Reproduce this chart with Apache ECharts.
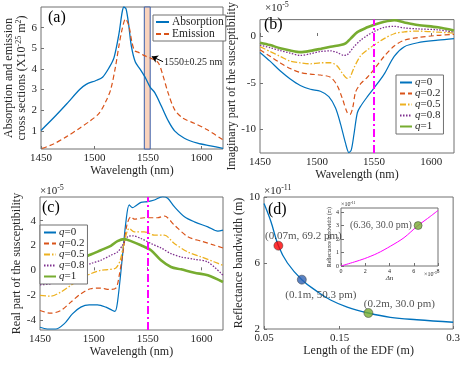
<!DOCTYPE html>
<html>
<head>
<meta charset="utf-8">
<script src="https://cdn.jsdelivr.net/npm/echarts@6/dist/echarts.min.js"></script>
<style>
html,body{margin:0;padding:0;background:#fff;}
#chartMain{width:463px;height:366px;}
</style>
</head>
<body>
<div id="chartMain"></div>
<script>
// ---- (a) cross sections, X10^-25 m^2 ----
var absWl  = [1450, 1461.6, 1473.9, 1486.1, 1492.2, 1501.4, 1507.5, 1513.6, 1518.2, 1522.8, 1525.8, 1527.4, 1529.5, 1532, 1534.4, 1538.1, 1542.7, 1547.2, 1551.8, 1556.4, 1562.5, 1568.7, 1574.8, 1583.9, 1596.2, 1608.4, 1620];
var absVal = [1.02, 1.62, 2.3, 3.0, 3.25, 3.44, 3.6, 4.06, 4.55, 5.7, 6.75, 7.0, 6.9, 6.1, 5.1, 4.33, 3.98, 3.6, 3.13, 2.84, 2.19, 1.5, 1.0, 0.64, 0.4, 0.27, 0.15];
var emWl   = [1451, 1461.6, 1473.9, 1486.1, 1495.3, 1504.4, 1510.6, 1515.1, 1519.7, 1522.8, 1525.8, 1528.9, 1532, 1535, 1537.5, 1541.1, 1547.2, 1553.4, 1559.5, 1564.1, 1568.7, 1574.8, 1582.4, 1593.1, 1605.4, 1620];
var emVal  = [0.15, 0.36, 0.72, 1.13, 1.46, 1.86, 2.43, 3.0, 4.14, 5.12, 5.93, 6.42, 6.1, 5.28, 4.88, 4.8, 4.63, 4.5, 4.3, 3.65, 2.84, 2.03, 1.62, 1.37, 1.05, 0.56];
var bandWl = [1546.5, 1552];

// ---- (b) imaginary part, x1e-5 ----
var imWl0 = [1450, 1458.8, 1467.6, 1476.5, 1485.3, 1494.1, 1502.9, 1510.3, 1516.2, 1520.6, 1525, 1527.9, 1530, 1532.4, 1535.3, 1538.2, 1544.1, 1550, 1558.8, 1567.6, 1576.5, 1588.2, 1605.9, 1620];
var imQ0  = [-1.76, -2.69, -3.72, -4.59, -5.28, -5.69, -5.9, -6.48, -7.69, -9.41, -11.48, -12.45, -12.17, -10.45, -8.2, -7.5, -6.48, -5.55, -4.07, -2.17, -1.14, -0.72, -0.45, -0.28];
var imWl2 = [1450, 1458.8, 1467.6, 1476.5, 1485.3, 1494.1, 1502.9, 1511.8, 1517.6, 1522.1, 1526.5, 1528.8, 1531.2, 1533.8, 1538.2, 1544.1, 1550, 1558.8, 1567.6, 1576.5, 1588.2, 1605.9, 1620];
var imQ2  = [-1.48, -2.17, -2.86, -3.48, -3.9, -4.07, -4.17, -4.41, -5.28, -6.66, -8.2, -8.38, -7.69, -5.97, -5.1, -4.41, -3.55, -2.17, -1.07, -0.45, -0.17, 0.07, 0.17];
var imWl5 = [1450, 1458.8, 1467.6, 1476.5, 1485.3, 1494.1, 1502.9, 1511.8, 1517.6, 1522.1, 1526.5, 1528.8, 1532.4, 1538.2, 1544.1, 1550, 1558.8, 1567.6, 1576.5, 1588.2, 1605.9, 1620];
var imQ5  = [-1.14, -1.66, -2.17, -2.69, -2.86, -2.97, -2.86, -2.86, -3.2, -3.97, -4.52, -4.41, -3.38, -2.1, -1.48, -0.97, -0.28, 0.24, 0.45, 0.52, 0.41, 0.31];
var imWl8 = [1450, 1458.8, 1467.6, 1476.5, 1485.3, 1494.1, 1502.9, 1511.8, 1517.6, 1523.5, 1526.5, 1532.4, 1538.2, 1544.1, 1550, 1558.8, 1567.6, 1576.5, 1588.2, 1605.9, 1620];
var imQ8  = [-0.97, -1.24, -1.55, -1.83, -2.07, -1.9, -1.66, -1.59, -1.76, -2.07, -2.0, -1.14, -0.45, 0.07, 0.48, 0.93, 1.03, 0.86, 0.76, 0.66, 0.41];
var imWl1 = [1450, 1458.8, 1467.6, 1476.5, 1485.3, 1494.1, 1502.9, 1511.8, 1520.6, 1525, 1529.4, 1535.3, 1544.1, 1550, 1558.8, 1567.6, 1576.5, 1588.2, 1605.9, 1620];
var imQ1  = [-0.72, -0.97, -1.31, -1.55, -1.72, -1.59, -1.38, -1.14, -0.97, -0.79, -0.28, 0.41, 0.93, 1.21, 1.52, 1.69, 1.45, 1.17, 0.93, 0.59];

// ---- (c) real part, x1e-5 ----
var reWl0 = [1450, 1456.8, 1464.6, 1472.4, 1480.1, 1487.9, 1495.7, 1503.4, 1511.2, 1517.4, 1519.6, 1522, 1526.7, 1529.8, 1532.9, 1536, 1539.1, 1543.8, 1550, 1556.2, 1564, 1568.6, 1574.8, 1584.2, 1593.5, 1605.9, 1615.2, 1620];
var reQ0  = [-4.58, -4.72, -4.72, -4.31, -3.5, -2.96, -2.78, -2.78, -2.96, -3.23, -3.3, -2.56, 1.21, 3.9, 5.26, 5.04, 5.2, 5.47, 5.53, 5.66, 5.93, 5.8, 5.12, 4.31, 3.9, 3.5, 3.15, 3.23];
var reWl2 = [1450, 1459.9, 1469.3, 1478.6, 1487.9, 1497.2, 1506.5, 1514.3, 1520.5, 1523.6, 1527.6, 1530.7, 1534.5, 1537.6, 1546.9, 1559.3, 1565.5, 1574.8, 1587.3, 1599.7, 1612.1, 1620];
var reQ2  = [-3.23, -3.45, -3.23, -2.56, -1.89, -1.48, -1.43, -1.54, -1.43, -0.4, 1.75, 3.64, 4.31, 4.12, 4.23, 4.23, 4.37, 3.64, 2.7, 2.35, 2.02, 1.8];
var reWl5 = [1450, 1459.9, 1469.3, 1478.6, 1487.9, 1497.2, 1506.5, 1512.7, 1520.5, 1524.5, 1528.3, 1532.9, 1537.6, 1546.9, 1556.2, 1565.5, 1574.8, 1587.3, 1599.7, 1612.1, 1620];
var reQ5  = [-2.02, -2.08, -1.75, -1.21, -0.67, -0.27, 0, 0.05, 0.19, 0.81, 2.29, 3.37, 3.1, 3.1, 2.83, 2.83, 2.16, 1.48, 1.08, 0.67, 0.4];
var reWl8 = [1450, 1459.9, 1469.3, 1478.6, 1487.9, 1497.2, 1506.5, 1515.8, 1522, 1526.7, 1531.4, 1536, 1543.8, 1553.1, 1562.4, 1571.7, 1581.1, 1593.5, 1605.9, 1620];
var reQ8  = [-1.16, -1.08, -0.75, -0.27, 0.19, 0.54, 0.81, 1.21, 1.48, 2.02, 2.7, 2.78, 2.56, 2.16, 1.8, 1.35, 1.08, 0.89, 0.67, -0.4];
var reWl1 = [1450, 1459.9, 1469.3, 1478.6, 1487.9, 1497.2, 1506.5, 1515.8, 1522, 1528.3, 1534.5, 1543.8, 1553.1, 1562.4, 1571.7, 1581.1, 1593.5, 1605.9, 1620];
var reQ1  = [-0.67, -0.46, -0.08, 0.4, 0.94, 1.27, 1.62, 1.97, 2.35, 2.51, 2.35, 2.02, 1.62, 0.81, 0.27, 0.08, -0.19, -0.4, -0.94];

// ---- (d) bandwidth vs EDF length, x1e-11 m ----
var edfLen = [0.05, 0.059, 0.069, 0.081, 0.1, 0.12, 0.138, 0.16, 0.188, 0.217, 0.252, 0.3];
var edfBw  = [9.6, 8.53, 7.05, 6.0, 4.99, 4.28, 3.76, 3.33, 2.97, 2.71, 2.56, 2.41];
var dotLen = [0.069, 0.1, 0.188];
var dotBw  = [7.05, 4.99, 2.97];
var dotText = ['(0.07m, 69.2 pm)', '(0.1m, 50.3 pm)', '(0.2m, 30.0 pm)'];
var dotColor = ['#FF0000', '#2F62B3', '#77AC30'];

// inset: bandwidth vs delta n (x1e-5)
var dnVal = [0, 1.1, 1.92, 3.0, 4.1, 5.2, 6.3, 7.4, 8.0];
var dnBw  = [0, 0.3, 0.54, 0.94, 1.48, 2.1, 2.96, 3.7, 4.12];
var dnDot = [6.36, 3.0];

// tick labels
var wlTicks = [1450, 1500, 1550, 1600];
var aTicks = [1, 2, 3, 4, 5, 6];
var bTicks = [-10, -5, 0];
var cTicks = [-4, -2, 0, 2, 4];
var dxTicks = [0.05, 0.15, 0.3];
var dyTicks = [2, 6, 10];
var inXTicks = [0, 2, 4, 6, 8];
var inYTicks = [0, 1, 2, 3, 4];

var qNames = ['q=0', 'q=0.2', 'q=0.5', 'q=0.8', 'q=1'];
var qColors = ['#0072BD', '#D95319', '#EDB120', '#7E2F8E', '#77AC30'];
var qTypes = ['solid', [5, 3], [6, 2, 1.5, 2], [1.5, 1.5], 'solid'];
var qWidths = [1.2, 1.2, 1.3, 1.3, 2.6];

var FONT = 'Liberation Serif';
var TXT = '#262626';
var BOX = '#707070';

function pairs(xs, ys) {
    var out = [];
    for (var i = 0; i < xs.length; i++) {
        out.push([xs[i], ys[i]]);
    }
    return out;
}

function mkGrid(l, t, w, h) {
    return {left: l, top: t, width: w, height: h, show: true, borderColor: BOX, borderWidth: 1, backgroundColor: '#fff'};
}

function mkAxis(gi, min, max, ticks, name, gap, fs) {
    fs = fs || 11;
    return {
        type: 'value', gridIndex: gi, min: min, max: max,
        axisLine: {show: false},
        axisTick: {show: true, inside: true, length: 3, customValues: ticks, lineStyle: {color: BOX}},
        axisLabel: {customValues: ticks, fontFamily: FONT, fontSize: fs, color: TXT, margin: 4,
            formatter: function (v) { return String(v); }},
        splitLine: {show: false},
        name: name, nameLocation: 'middle', nameGap: gap,
        nameTextStyle: {fontFamily: FONT, fontSize: 12, color: TXT,
            rich: {sup: {fontFamily: FONT, fontSize: 8, color: TXT, padding: [0, 0, 6, 0]}}}
    };
}

var magentaLine = {
    symbol: 'none', silent: true, label: {show: false},
    lineStyle: {color: '#FF00FF', type: [8, 3, 2, 3], width: 2},
    data: [{xAxis: 1550}]
};

var series = [];

// (a)
series.push({
    name: 'Absorption', type: 'line', xAxisIndex: 0, yAxisIndex: 0, smooth: 0.3, symbol: 'none',
    lineStyle: {color: '#0072BD', width: 1.3}, itemStyle: {color: '#0072BD'},
    data: pairs(absWl, absVal),
    markArea: {silent: true, itemStyle: {color: '#F9D3BD', borderColor: '#3B5EA8', borderWidth: 1},
        data: [[{xAxis: bandWl[0]}, {xAxis: bandWl[1]}]]},
    markLine: {silent: true, symbol: ['none', 'arrow'], symbolSize: 6, label: {show: false},
        lineStyle: {color: '#000', type: 'solid', width: 1},
        data: [[{coord: [1564, 4.35]}, {coord: [1553.5, 4.6]}]]}
});
series.push({
    name: 'Emission', type: 'line', xAxisIndex: 0, yAxisIndex: 0, smooth: 0.3, symbol: 'none',
    lineStyle: {color: '#D95319', width: 1.2, type: [5, 3]}, itemStyle: {color: '#D95319'},
    data: pairs(emWl, emVal)
});

// (b) and (c)
var imX = [imWl0, imWl2, imWl5, imWl8, imWl1];
var imY = [imQ0, imQ2, imQ5, imQ8, imQ1];
var reX = [reWl0, reWl2, reWl5, reWl8, reWl1];
var reY = [reQ0, reQ2, reQ5, reQ8, reQ1];
for (var k = 0; k < 5; k++) {
    var sb = {
        name: 'b' + k, type: 'line', xAxisIndex: 1, yAxisIndex: 1, smooth: 0.3, symbol: 'none',
        lineStyle: {color: qColors[k], width: qWidths[k], type: qTypes[k]}, itemStyle: {color: qColors[k]},
        data: pairs(imX[k], imY[k])
    };
    var sc = {
        name: 'c' + k, type: 'line', xAxisIndex: 2, yAxisIndex: 2, smooth: 0.3, symbol: 'none',
        lineStyle: {color: qColors[k], width: qWidths[k], type: qTypes[k]}, itemStyle: {color: qColors[k]},
        data: pairs(reX[k], reY[k])
    };
    if (k == 4) {
        sb.markLine = magentaLine;
        sc.markLine = magentaLine;
    }
    series.push(sb);
    series.push(sc);
}

// (d)
series.push({
    name: 'edf', type: 'line', xAxisIndex: 3, yAxisIndex: 3, smooth: 0.4, symbol: 'none',
    lineStyle: {color: '#0072BD', width: 1.3}, data: pairs(edfLen, edfBw)
});
var dotOffsets = [[25, -10], [19, 15], [31, -9]];
var dotData = [];
for (var j = 0; j < dotLen.length; j++) {
    dotData.push({
        value: [dotLen[j], dotBw[j]],
        itemStyle: {color: dotColor[j]},
        label: {show: true, position: 'inside', offset: dotOffsets[j], formatter: dotText[j]}
    });
}
series.push({
    name: 'dots', type: 'scatter', xAxisIndex: 3, yAxisIndex: 3, symbolSize: 9, z: 5,
    itemStyle: {borderColor: '#333', borderWidth: 0.6},
    label: {fontFamily: FONT, fontSize: 11, color: TXT},
    data: dotData
});

// inset
series.push({
    name: 'inset', type: 'line', xAxisIndex: 4, yAxisIndex: 4, smooth: 0.3, symbol: 'none', z: 6,
    lineStyle: {color: '#FF00FF', width: 1}, data: pairs(dnVal, dnBw)
});
series.push({
    name: 'insetDot', type: 'scatter', xAxisIndex: 4, yAxisIndex: 4, symbolSize: 8, z: 7,
    itemStyle: {color: '#77AC30', borderColor: '#333', borderWidth: 0.6},
    label: {show: true, position: 'left', distance: 2, fontFamily: FONT, fontSize: 10, color: TXT,
        formatter: '(6.36, 30.0 pm)'},
    data: [dnDot]
});

function supText(left, top, exp, fs) {
    return {type: 'text', left: left, top: top, z: 10,
        style: {text: '×10{s|' + exp + '}', fontFamily: FONT, fontSize: fs, fill: TXT,
            rich: {s: {fontFamily: FONT, fontSize: Math.round(fs * 0.72), fill: TXT, padding: [0, 0, fs * 0.5, 0]}}}};
}
function panelTag(left, top, txt) {
    return {type: 'text', left: left, top: top, z: 10,
        style: {text: txt, fontFamily: FONT, fontSize: 16, fill: '#000'}};
}

var qLegendText = function (name) {
    return '{i|q}=' + qNames[+name.slice(1)].slice(2);
};
// legend: only the line sample, no marker in the middle
var legendBase = {
    orient: 'vertical', itemGap: 0, itemWidth: 12, itemHeight: 8, padding: [2, 3],
    borderColor: BOX, borderWidth: 1, backgroundColor: '#fff',
    itemStyle: {opacity: 0},
    textStyle: {fontFamily: FONT, fontSize: 11, color: TXT, padding: [0, 0, 0, -2],
        rich: {i: {fontFamily: FONT, fontSize: 11, fontStyle: 'italic', color: TXT}}}
};

var option = {
    backgroundColor: '#fff',
    animation: false,
    grid: [
        mkGrid(41, 7, 182, 142),
        mkGrid(260, 15, 194, 138),
        mkGrid(40, 197, 183, 133),
        mkGrid(264, 197, 190, 132),
        mkGrid(341, 208, 97, 58)
    ],
    xAxis: [
        mkAxis(0, 1450, 1620, wlTicks, 'Wavelength (nm)', 16),
        mkAxis(1, 1450, 1620, wlTicks, 'Wavelength (nm)', 16),
        mkAxis(2, 1450, 1620, wlTicks, 'Wavelength (nm)', 16),
        mkAxis(3, 0.05, 0.3, dxTicks, 'Length of the EDF (m)', 16),
        mkAxis(4, 0, 8, inXTicks, 'Δn', 7, 6)
    ],
    yAxis: [
        mkAxis(0, 0.12, 7, aTicks, 'Absorption and emission\ncross sections (X10{sup|-25} m{sup|2})', 12),
        mkAxis(1, -12.5, 1.75, bTicks, 'Imaginary part of the susceptibility', 17),
        mkAxis(2, -4.8, 5.9, cTicks, 'Real part of the susceptibility', 17),
        mkAxis(3, 2, 10, dyTicks, 'Reflectance bandwidth (m)', 16),
        mkAxis(4, 0, 4.3, inYTicks, 'Reflectance bandwidth (m)', 5, 6)
    ],
    legend: [
        Object.assign({}, legendBase, {left: 153, top: 15, itemWidth: 13, padding: [1, 2],
            textStyle: {fontFamily: FONT, fontSize: 11.5, color: TXT, padding: [0, 0, 0, -2]},
            data: ['Absorption', 'Emission']}),
        Object.assign({}, legendBase, {left: 396, top: 75, formatter: qLegendText,
            data: ['b0', 'b1', 'b2', 'b3', 'b4']}),
        Object.assign({}, legendBase, {left: 40, top: 225, formatter: qLegendText,
            data: ['c0', 'c1', 'c2', 'c3', 'c4']})
    ],
    graphic: [
        panelTag(48, 10, '(a)'),
        panelTag(264, 17, '(b)'),
        panelTag(42, 200, '(c)'),
        panelTag(268, 202, '(d)'),
        supText(265, 1, '-5', 11),
        supText(40, 184, '-5', 11),
        supText(264, 184, '-11', 11),
        supText(341, 201, '-11', 6),
        supText(424, 271, '-5', 6),
        {type: 'text', left: 164, top: 57, z: 10,
            style: {text: '1550±0.25 nm', fontFamily: FONT, fontSize: 10, fill: TXT}}
    ],
    series: series
};

// the two inset axis names are smaller
option.xAxis[4].nameTextStyle.fontSize = 7;
option.xAxis[4].nameTextStyle.fontStyle = 'italic';
option.yAxis[4].nameTextStyle.fontSize = 5.5;
option.xAxis[4].axisLabel.margin = 2;
option.yAxis[4].axisLabel.margin = 2;

var mychart = echarts.init(document.getElementById('chartMain'));
mychart.setOption(option);
</script>
</body>
</html>
